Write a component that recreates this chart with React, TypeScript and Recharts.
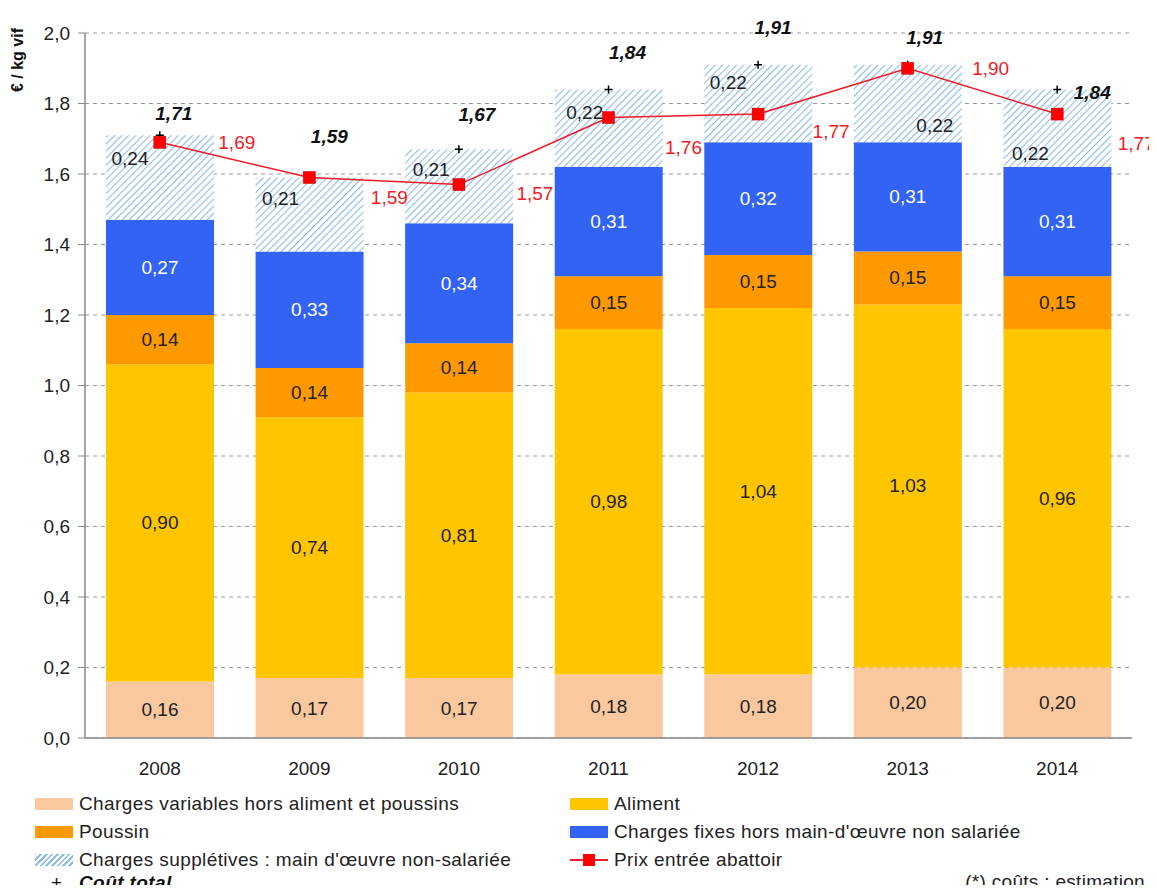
import React from "react";
import {
  ComposedChart,
  Bar,
  Line,
  CartesianGrid,
  XAxis,
  YAxis,
  LabelList,
} from "recharts";

// ---- data (€ / kg vif) ----
const years = ["2008", "2009", "2010", "2011", "2012", "2013", "2014"];
const chargesVariables = [0.16, 0.17, 0.17, 0.18, 0.18, 0.2, 0.2];
const aliment = [0.9, 0.74, 0.81, 0.98, 1.04, 1.03, 0.96];
const poussin = [0.14, 0.14, 0.14, 0.15, 0.15, 0.15, 0.15];
const chargesFixes = [0.27, 0.33, 0.34, 0.31, 0.32, 0.31, 0.31];
const chargesSuppletives = [0.24, 0.21, 0.21, 0.22, 0.22, 0.22, 0.22];
const prixAbattoir = [1.69, 1.59, 1.57, 1.76, 1.77, 1.9, 1.77];
const coutTotal = [1.71, 1.59, 1.67, 1.84, 1.91, 1.91, 1.84];
const yTicks = [0, 0.2, 0.4, 0.6, 0.8, 1.0, 1.2, 1.4, 1.6, 1.8, 2.0];

const data = years.map((year, i) => ({
  year,
  chargesVariables: chargesVariables[i],
  aliment: aliment[i],
  poussin: poussin[i],
  chargesFixes: chargesFixes[i],
  chargesSuppletives: chargesSuppletives[i],
  prixAbattoir: prixAbattoir[i],
  coutTotal: coutTotal[i],
}));

const FONT = "'Liberation Sans', Arial, sans-serif";
const FS = 19;
const C_PEACH = "#fac89e";
const C_YELLOW = "#ffc600";
const C_ORANGE = "#ff9900";
const C_BLUE = "#3263f5";
const C_RED = "#ee1c25";
const C_HATCH = "#8dbbe8";

// label nudges so the texts don't run into the price line
const hatchNudge: [number, number][] = [
  [-30, -19], [-29, -16], [-28, -17], [-24, -16], [-30, -21], [27, 22], [-27, 25],
];
const prixNudge: [number, number][] = [
  [77, 0], [80, 20], [76, 9], [75, 30], [73, 17], [83, 0], [79, 29],
];
const totalNudge: [number, number][] = [
  [14, -22], [20, -41], [18, -35], [19, -37], [15, -37], [17, -27], [35, 3],
];

const fmt2 = (v: number) => v.toFixed(2).replace(".", ",");
const fmt1 = (v: number) => v.toFixed(1).replace(".", ",");

function segLabel(values: number[], color: string, nudge?: [number, number][]) {
  return (p: any) => {
    const i = p.index;
    const [dx, dy] = nudge ? nudge[i] : [0, 0];
    const cx = Number(p.x) + Number(p.width) / 2 + dx;
    const cy = Number(p.y) + Number(p.height) / 2 + dy;
    return (
      <text x={cx} y={cy} textAnchor="middle" dominantBaseline="central" fill={color} fontSize={FS} fontFamily={FONT}>
        {fmt2(values[i])}
      </text>
    );
  };
}

function pointLabel(values: number[], nudge: [number, number][], color: string, bold: boolean) {
  return (p: any) => {
    const i = p.index;
    const [dx, dy] = nudge[i];
    return (
      <text
        x={Number(p.x) + dx}
        y={Number(p.y) + dy}
        textAnchor="middle"
        dominantBaseline="central"
        fill={color}
        fontSize={FS}
        fontWeight={bold ? "bold" : "normal"}
        fontStyle={bold ? "italic" : "normal"}
        fontFamily={FONT}
      >
        {fmt2(values[i])}
      </text>
    );
  };
}

const SquareDot = (p: any) => (
  <rect key={p.index} x={p.cx - 6} y={p.cy - 6} width={12} height={12} fill="#ff0000" stroke="#c00000" strokeWidth={0.5} />
);

const PlusDot = (p: any) => (
  <path key={p.index} d={`M${p.cx - 4},${p.cy}H${p.cx + 4}M${p.cx},${p.cy - 4}V${p.cy + 4}`} stroke="#000" strokeWidth={1.5} />
);

function Swatch({ kind, color }: { kind: string; color?: string }) {
  if (kind === "hatch") {
    return (
      <span
        style={{
          display: "inline-block",
          width: 38,
          height: 12,
          background: `repeating-linear-gradient(-45deg, #fff 0px, #fff 2px, ${C_HATCH} 2px, ${C_HATCH} 4px)`,
        }}
      />
    );
  }
  if (kind === "line") {
    return (
      <svg width={38} height={14} style={{ display: "inline-block" }}>
        <line x1={0} y1={7} x2={38} y2={7} stroke={C_RED} strokeWidth={2} />
        <rect x={13} y={1} width={12} height={12} fill="#ff0000" />
      </svg>
    );
  }
  return <span style={{ display: "inline-block", width: 38, height: 12, background: color }} />;
}

function LegendItem({ x, y, kind, color, text }: { x: number; y: number; kind: string; color?: string; text: string }) {
  return (
    <div style={{ position: "absolute", left: x, top: y - 11, height: 22, display: "flex", alignItems: "center", gap: 6, fontSize: FS, letterSpacing: 0.4, color: "#222", whiteSpace: "nowrap" }}>
      <Swatch kind={kind} color={color} />
      <span>{text}</span>
    </div>
  );
}

export default function App() {
  return (
    <div style={{ position: "relative", width: 1149, height: 877, fontFamily: FONT, background: "#fff" }}>
      <div
        style={{
          position: "absolute",
          left: 10,
          top: 52,
          transform: "translate(-50%, -50%) rotate(-90deg)",
          fontWeight: "bold",
          fontSize: 16,
          whiteSpace: "nowrap",
          color: "#111",
        }}
      >
        € / kg vif
      </div>

      <ComposedChart
        width={1149}
        height={790}
        data={data}
        margin={{ top: 25, right: 25, bottom: 20, left: 0 }}
        barSize={108}
      >
        <defs>
          <pattern id="hatch" width="5" height="5" patternUnits="userSpaceOnUse" patternTransform="rotate(45)">
            <rect width="5" height="5" fill="#fff" />
            <line x1="0" y1="0" x2="0" y2="5" stroke={C_HATCH} strokeWidth="2.2" />
          </pattern>
        </defs>

        <CartesianGrid vertical={false} stroke="#9a9a9a" strokeDasharray="4 4" />

        <XAxis
          dataKey="year"
          axisLine={{ stroke: "#888", strokeWidth: 1.5 }}
          tickLine={false}
          tickSize={0}
          tickMargin={24}
          height={40}
          tick={{ fill: "#222", fontSize: FS, fontFamily: FONT }}
        />
        <YAxis
          width={77}
          domain={[0, 2]}
          ticks={yTicks}
          tickFormatter={fmt1}
          axisLine={{ stroke: "#888", strokeWidth: 1.5 }}
          tickLine={{ stroke: "#888" }}
          tickSize={7}
          tickMargin={8}
          tick={{ fill: "#222", fontSize: FS, fontFamily: FONT }}
          allowDataOverflow
        />

        <Bar dataKey="chargesVariables" stackId="a" fill={C_PEACH} isAnimationActive={false}>
          <LabelList content={segLabel(chargesVariables, "#222")} />
        </Bar>
        <Bar dataKey="aliment" stackId="a" fill={C_YELLOW} isAnimationActive={false}>
          <LabelList content={segLabel(aliment, "#222")} />
        </Bar>
        <Bar dataKey="poussin" stackId="a" fill={C_ORANGE} isAnimationActive={false}>
          <LabelList content={segLabel(poussin, "#222")} />
        </Bar>
        <Bar dataKey="chargesFixes" stackId="a" fill={C_BLUE} isAnimationActive={false}>
          <LabelList content={segLabel(chargesFixes, "#fff")} />
        </Bar>
        <Bar dataKey="chargesSuppletives" stackId="a" fill="url(#hatch)" isAnimationActive={false}>
          <LabelList content={segLabel(chargesSuppletives, "#222", hatchNudge)} />
        </Bar>

        <Line
          dataKey="coutTotal"
          stroke="none"
          dot={PlusDot}
          activeDot={false}
          isAnimationActive={false}
        >
          <LabelList content={pointLabel(coutTotal, totalNudge, "#111", true)} />
        </Line>
        <Line
          dataKey="prixAbattoir"
          type="linear"
          stroke={C_RED}
          strokeWidth={1.5}
          dot={SquareDot}
          activeDot={false}
          isAnimationActive={false}
        >
          <LabelList content={pointLabel(prixAbattoir, prixNudge, C_RED, false)} />
        </Line>
      </ComposedChart>

      <LegendItem x={27} y={796} kind="box" color={C_PEACH} text="Charges variables hors aliment et poussins" />
      <LegendItem x={562} y={796} kind="box" color={C_YELLOW} text="Aliment" />
      <LegendItem x={27} y={824} kind="box" color={C_ORANGE} text="Poussin" />
      <LegendItem x={562} y={824} kind="box" color={C_BLUE} text="Charges fixes hors main-d'œuvre non salariée" />
      <LegendItem x={27} y={852} kind="hatch" text="Charges supplétives : main d'œuvre non-salariée" />
      <LegendItem x={562} y={852} kind="line" text="Prix entrée abattoir" />

      <div style={{ position: "absolute", left: 43, top: 865, fontSize: FS, color: "#111", whiteSpace: "nowrap", lineHeight: "20px" }}>
        <span style={{ display: "inline-block", width: 28 }}>+</span>
        <span style={{ fontWeight: "bold", fontStyle: "italic", letterSpacing: 0.4 }}>Coût total</span>
      </div>
      <div style={{ position: "absolute", right: 12, top: 864, fontSize: FS, color: "#222", whiteSpace: "nowrap", lineHeight: "20px", letterSpacing: 0.3 }}>
        (*) coûts : estimation
      </div>
    </div>
  );
}
